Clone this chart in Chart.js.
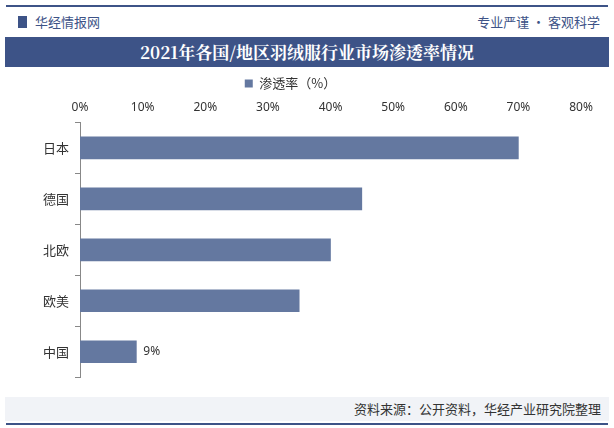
<!DOCTYPE html>
<html><head><meta charset="utf-8">
<script src="https://cdn.jsdelivr.net/npm/chart.js@4"></script>
<style>
body{margin:0;width:614px;height:428px;background:#fff;font-family:"Noto Sans CJK SC",sans-serif;position:relative;overflow:hidden}
.topline{position:absolute;left:6px;right:6px;top:5px;height:2px;background:#3d5387}
.logo{position:absolute;left:18px;top:12px;font-size:13px;color:#3d5387}
.logo b{display:inline-block;width:9px;height:12px;background:#3d5387;margin-right:8px;vertical-align:-1px}
.slogan{position:absolute;right:14px;top:12px;font-size:13px;color:#3d5387}
.title{position:absolute;left:5px;right:5px;top:37px;height:30px;background:#3d5387;color:#fff;font:bold 17px "Noto Serif CJK SC","Noto Sans CJK SC",serif;text-align:center;line-height:30px}
.foot{position:absolute;left:5px;right:5px;top:397px;height:24px;background:#f1f3f7;font-size:13px;color:#333;text-align:right;line-height:24px;padding-right:8px;box-sizing:border-box}
.botline{position:absolute;left:6px;right:6px;top:423px;height:2px;background:#3d5387}
#wrap{position:absolute;left:0;top:71px;width:614px;height:320px}
</style></head><body>
<div class="topline"></div>
<div class="logo"><b></b>华经情报网</div>
<div class="slogan">专业严谨 • 客观科学</div>
<div class="title">2021年各国/地区羽绒服行业市场渗透率情况</div>
<div id="wrap"><canvas id="c"></canvas></div>
<div class="foot">资料来源：公开资料，华经产业研究院整理</div>
<div class="botline"></div>
<script>
const categories = ['日本', '德国', '北欧', '欧美', '中国'];
const rates = [70, 45, 40, 35, 9];
const labelled = [false, false, false, false, true];
const xTicks = [0, 10, 20, 30, 40, 50, 60, 70, 80];

const barLabels = {
  id: 'barLabels',
  afterDatasetsDraw(chart) {
    const ctx = chart.ctx;
    chart.getDatasetMeta(0).data.forEach((bar, i) => {
      if (!labelled[i]) return;
      ctx.save();
      ctx.font = '12px "Noto Sans", sans-serif';
      ctx.fillStyle = '#333';
      ctx.textBaseline = 'middle';
      ctx.fillText(rates[i] + '%', bar.x + 7, bar.y);
      ctx.restore();
    });
  }
};

new Chart(document.getElementById('c'), {
  type: 'bar',
  data: {
    labels: categories,
    datasets: [{
      label: '渗透率（%）',
      data: rates,
      backgroundColor: '#6478a0',
      barThickness: 22
    }]
  },
  options: {
    indexAxis: 'y',
    responsive: true,
    maintainAspectRatio: false,
    animation: false,
    layout: { padding: { left: 0, right: 33, top: 0, bottom: 2 } },
    plugins: {
      legend: {
        labels: { boxWidth: 8, boxHeight: 8, color: '#333', font: { size: 13, family: '"Noto Sans CJK SC"' }, padding: 6 }
      },
      tooltip: { enabled: false }
    },
    scales: {
      x: {
        position: 'top',
        min: 0, max: 80,
        afterBuildTicks: s => { s.ticks = xTicks.map(v => ({ value: v })); },
        ticks: { callback: v => v + '%', color: '#333', font: { size: 12, family: '"Noto Sans"' }, padding: 0 },
        grid: { display: false },
        border: { display: false }
      },
      y: {
        afterFit: s => { s.width = 80; },
        ticks: { color: '#333', font: { size: 13, family: '"Noto Sans CJK SC"' }, padding: 6 },
        grid: { drawOnChartArea: false, offset: true, tickLength: 5, color: '#888' },
        border: { color: '#888' }
      }
    }
  },
  plugins: [barLabels]
});
</script>
</body></html>
